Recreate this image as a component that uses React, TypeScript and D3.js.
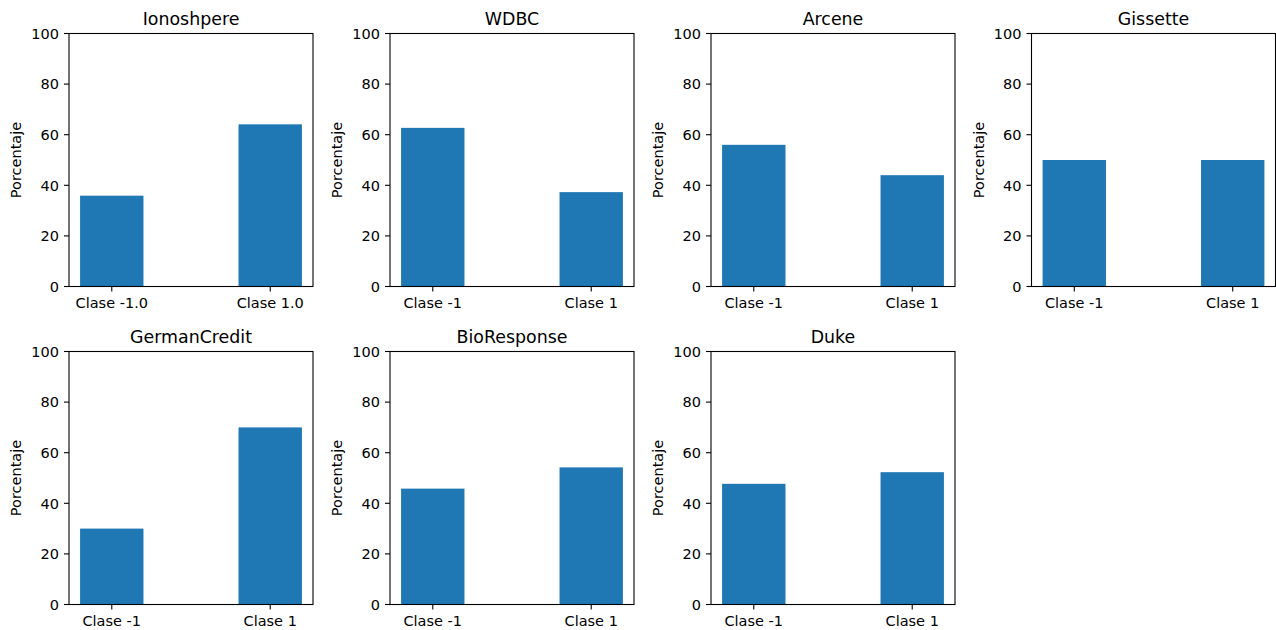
import React from "react";
import * as d3 from "d3";

const datasets = ["Ionoshpere", "WDBC", "Arcene", "Gissette", "GermanCredit", "BioResponse", "Duke"];
const classLabels = [
  ["Clase -1.0", "Clase 1.0"],
  ["Clase -1", "Clase 1"],
  ["Clase -1", "Clase 1"],
  ["Clase -1", "Clase 1"],
  ["Clase -1", "Clase 1"],
  ["Clase -1", "Clase 1"],
  ["Clase -1", "Clase 1"],
];
const percentNeg = [35.9, 62.7, 56.0, 50.0, 30.0, 45.8, 47.7];
const percentPos = [64.1, 37.3, 44.0, 50.0, 70.0, 54.2, 52.3];
const yTicks = [0, 20, 40, 60, 80, 100];
const yLabel = "Porcentaje";

const W = 1276;
const H = 630;
const colLefts = [69, 390, 711, 1031.5];
const rowTops = [33.5, 351.5];
const axW = 244;
const axH = 253;
const barWidth = 0.4;
const FONT = "DejaVu Sans, sans-serif";

function Panel({ idx }: { idx: number }) {
  const left = colLefts[idx % 4];
  const top = rowTops[Math.floor(idx / 4)];
  const x = d3.scaleLinear().domain([-0.27, 1.27]).range([left, left + axW]);
  const y = d3.scaleLinear().domain([0, 100]).range([top + axH, top]);
  const vals = [percentNeg[idx], percentPos[idx]];
  const bottom = top + axH;
  return (
    <g>
      {vals.map((v, i) => (
        <rect
          key={i}
          x={x(i - barWidth / 2)}
          y={y(v)}
          width={x(i + barWidth / 2) - x(i - barWidth / 2)}
          height={y(0) - y(v)}
          fill="#1f77b4"
        />
      ))}
      <rect x={left} y={top} width={axW} height={axH} fill="none" stroke="#000" strokeWidth={1.1} />
      {yTicks.map((t) => (
        <g key={t}>
          <line x1={left - 5} x2={left} y1={y(t)} y2={y(t)} stroke="#000" strokeWidth={1.1} />
          <text x={left - 10} y={y(t)} dy="0.36em" textAnchor="end" fontSize={14.5} fontFamily={FONT} fill="#000">
            {t}
          </text>
        </g>
      ))}
      {[0, 1].map((i) => (
        <g key={i}>
          <line x1={x(i)} x2={x(i)} y1={bottom} y2={bottom + 5} stroke="#000" strokeWidth={1.1} />
          <text x={x(i)} y={bottom + 21.5} textAnchor="middle" fontSize={14.5} fontFamily={FONT} fill="#000">
            {classLabels[idx][i]}
          </text>
        </g>
      ))}
      <text
        transform={`translate(${left - 48},${top + axH / 2}) rotate(-90)`}
        textAnchor="middle"
        fontSize={14.5}
        fontFamily={FONT}
        fill="#000"
      >
        {yLabel}
      </text>
      <text x={left + axW / 2} y={top - 9} textAnchor="middle" fontSize={17.4} fontFamily={FONT} fill="#000">
        {datasets[idx]}
      </text>
    </g>
  );
}

export default function App() {
  return (
    <svg
      width={W}
      height={H}
      style={{ position: "absolute", left: 0, top: 0, background: "#fff" }}
    >
      <rect x={0} y={0} width={W} height={H} fill="#fff" />
      {datasets.map((_, i) => (
        <Panel key={i} idx={i} />
      ))}
    </svg>
  );
}
